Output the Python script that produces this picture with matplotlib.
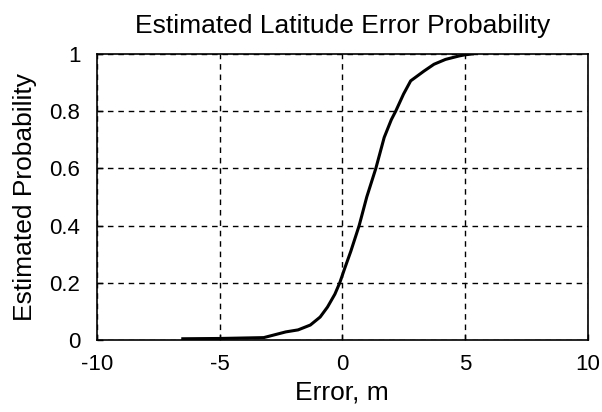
import numpy as np
import matplotlib.pyplot as plt

plt.rcParams['font.family'] = ['Liberation Sans', 'DejaVu Sans']
plt.rcParams['axes.unicode_minus'] = False

# Estimated CDF of latitude error
error_m = [-6.5, -5.0, -3.2, -2.3, -1.8, -1.3, -0.9, -0.6, -0.3, -0.1, 0.1,
           0.35, 0.69, 1.0, 1.37, 1.71, 2.0, 2.18, 2.5, 2.79, 3.33, 3.74,
           4.21, 4.76, 5.0, 5.3]
probability = [0.004, 0.005, 0.008, 0.028, 0.035, 0.052, 0.08, 0.115, 0.16,
               0.2, 0.25, 0.31, 0.4, 0.5, 0.6, 0.708, 0.77, 0.8, 0.86, 0.906,
               0.94, 0.964, 0.981, 0.993, 0.997, 1.0]

fig = plt.figure(figsize=(6.02, 4.12), dpi=100)
ax = fig.add_axes([0.161, 0.175, 0.815, 0.694])

ax.plot(error_m, probability, color='black', linewidth=2.2)

ax.set_xlim(-10, 10)
ax.set_ylim(0, 1)
ax.set_xticks([-10, -5, 0, 5, 10])
ax.set_yticks([0, 0.2, 0.4, 0.6, 0.8, 1])
ax.set_yticklabels(['0', '0.2', '0.4', '0.6', '0.8', '1'])

ax.grid(True, color='black', linestyle=(0, (4, 3.5)), linewidth=1.0)
ax.tick_params(direction='in', length=4, width=1, labelsize=16)
ax.tick_params(axis='x', pad=10)
ax.tick_params(axis='y', pad=12)
for s in ax.spines.values():
    s.set_linewidth(1.2)

ax.set_title('Estimated Latitude Error Probability', fontsize=19, pad=15)
ax.set_xlabel('Error, m', fontsize=19, labelpad=4)
ax.set_ylabel('Estimated Probability', fontsize=19, labelpad=9)

fig.savefig('out.png', dpi=100)
